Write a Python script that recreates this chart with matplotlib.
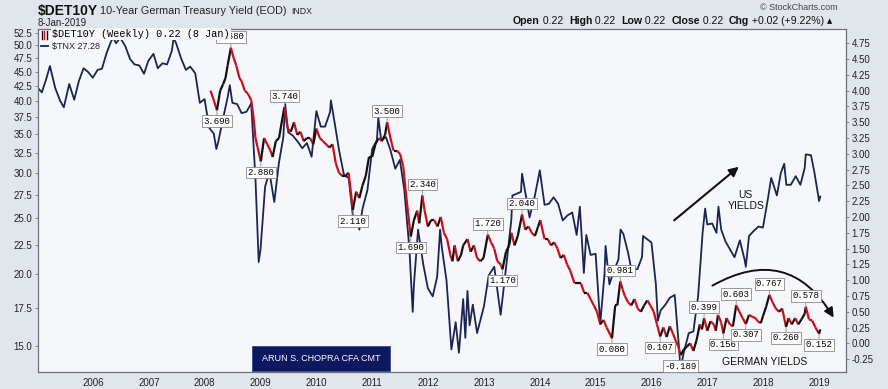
import matplotlib.pyplot as plt
import matplotlib.dates as mdates
import numpy as np
import pandas as pd
from matplotlib.collections import LineCollection
from matplotlib.patches import Rectangle
from matplotlib.ticker import FixedLocator, NullLocator, FormatStrFormatter

plt.rcParams['font.family'] = ['Liberation Sans', 'DejaVu Sans']

# $TNX (US 10y yield x10), readings, left log axis
us_dates = [
    '2005-01-03', '2005-01-31', '2005-02-28', '2005-03-25', '2005-04-29', '2005-05-31', '2005-06-24',
    '2005-07-29', '2005-08-31', '2005-09-30', '2005-10-31', '2005-11-30', '2005-12-30',
    '2006-01-31', '2006-02-28', '2006-03-31', '2006-04-28', '2006-05-12', '2006-05-31', '2006-06-28',
    '2006-07-31', '2006-08-31', '2006-09-29', '2006-10-31', '2006-11-30', '2006-12-29',
    '2007-01-31', '2007-02-28', '2007-03-30', '2007-04-30', '2007-05-31', '2007-06-12', '2007-06-29',
    '2007-07-31', '2007-08-31', '2007-09-28', '2007-10-31', '2007-11-30', '2007-12-31',
    '2008-01-31', '2008-02-29', '2008-03-17', '2008-03-31', '2008-04-30', '2008-05-30', '2008-06-13',
    '2008-06-30', '2008-07-31', '2008-08-29', '2008-09-30', '2008-10-31', '2008-11-28', '2008-12-19',
    '2008-12-31', '2009-01-30', '2009-02-27', '2009-03-31', '2009-04-30', '2009-05-29', '2009-06-10',
    '2009-06-30', '2009-07-31', '2009-08-31', '2009-09-30', '2009-10-30', '2009-11-30', '2009-12-31',
    '2010-01-29', '2010-02-26', '2010-03-31', '2010-04-05', '2010-04-30', '2010-05-28', '2010-06-30',
    '2010-07-30', '2010-08-31', '2010-09-30', '2010-10-08', '2010-10-29', '2010-11-30', '2010-12-31',
    '2011-01-31', '2011-02-09', '2011-02-28', '2011-03-31', '2011-04-29', '2011-05-31', '2011-06-30',
    '2011-07-29', '2011-08-31', '2011-09-22', '2011-09-30', '2011-10-27', '2011-11-30', '2011-12-30',
    '2012-01-31', '2012-02-29', '2012-03-19', '2012-03-30', '2012-04-30', '2012-06-01', '2012-06-29',
    '2012-07-20', '2012-08-17', '2012-08-31', '2012-09-14', '2012-09-28', '2012-10-19', '2012-11-16',
    '2012-12-31', '2013-01-31', '2013-03-08', '2013-04-19', '2013-05-31', '2013-06-28', '2013-07-05',
    '2013-08-30', '2013-09-06', '2013-10-25', '2013-11-29', '2013-12-31',
    '2014-01-31', '2014-02-28', '2014-03-31', '2014-04-30', '2014-05-30', '2014-06-30', '2014-07-31',
    '2014-08-29', '2014-09-19', '2014-10-15', '2014-10-31', '2014-11-28', '2014-12-31',
    '2015-01-30', '2015-02-27', '2015-03-06', '2015-03-31', '2015-04-30', '2015-05-29', '2015-06-12',
    '2015-06-30', '2015-07-31', '2015-08-21', '2015-09-30', '2015-10-30', '2015-11-06', '2015-12-31',
    '2016-01-29', '2016-02-11', '2016-02-29', '2016-03-31', '2016-04-29', '2016-05-31', '2016-06-30',
    '2016-07-08', '2016-07-29', '2016-08-31', '2016-09-30', '2016-10-31', '2016-11-30', '2016-12-16',
    '2016-12-30', '2017-01-31', '2017-02-28', '2017-03-13', '2017-03-31', '2017-04-28', '2017-05-31',
    '2017-06-26', '2017-07-31', '2017-08-31', '2017-09-08', '2017-09-29', '2017-10-31', '2017-11-30',
    '2017-12-29', '2018-01-31', '2018-02-21', '2018-03-30', '2018-04-25', '2018-05-17', '2018-05-31',
    '2018-06-29', '2018-07-31', '2018-08-31', '2018-09-28', '2018-10-05', '2018-11-08', '2018-11-30',
    '2018-12-31', '2019-01-08',
]
us_vals = [
    42.2, 41.4, 43.6, 46.0, 42.1, 40.0, 39.0,
    42.8, 40.2, 43.3, 45.6, 44.9, 43.9,
    45.3, 45.5, 48.5, 50.7, 51.6, 50.4, 51.5,
    49.8, 47.3, 46.3, 46.1, 44.6, 47.0,
    48.3, 45.6, 46.5, 46.3, 48.9, 51.5, 50.3,
    47.4, 45.3, 45.9, 44.7, 39.7, 40.3,
    35.9, 35.1, 33.0, 34.1, 37.3, 40.6, 42.6,
    39.7, 39.5, 38.1, 38.3, 39.6, 29.2, 21.0,
    22.1, 28.4, 30.1, 26.7, 31.2, 34.6, 39.5,
    35.3, 34.8, 34.0, 33.1, 33.8, 32.0, 38.4,
    36.1, 36.1, 38.3, 40.1, 36.6, 32.9, 29.7,
    29.4, 24.7, 25.2, 23.9, 26.0, 28.0, 33.0,
    34.2, 37.4, 34.2, 34.6, 32.9, 30.5, 31.6,
    28.0, 22.2, 17.2, 19.2, 23.9, 20.8, 18.9,
    18.3, 19.8, 23.9, 22.3, 19.5, 14.8, 16.5,
    14.6, 18.1, 15.5, 18.7, 16.3, 17.7, 15.8,
    17.6, 19.9, 20.6, 17.0, 21.3, 24.9, 27.4,
    27.8, 29.9, 25.1, 27.4, 30.3,
    26.4, 26.5, 27.2, 26.5, 24.8, 25.3, 25.6,
    23.4, 26.2, 20.1, 23.4, 21.6, 21.7,
    16.4, 20.0, 22.4, 19.2, 20.3, 21.2, 23.9,
    23.5, 21.8, 20.4, 20.4, 21.4, 23.3, 22.7,
    19.2, 16.6, 17.3, 17.7, 18.2, 18.4, 14.7,
    13.7, 14.6, 15.8, 15.9, 18.3, 23.7, 26.0,
    24.4, 24.5, 23.6, 26.2, 23.9, 22.8, 22.0,
    21.4, 22.9, 21.2, 20.6, 23.3, 23.8, 24.2,
    24.1, 27.1, 29.4, 27.4, 30.0, 31.1, 28.6,
    28.6, 29.6, 28.6, 30.6, 32.3, 32.2, 30.1,
    26.8, 27.28,
]

# $DET10Y (German 10y yield, %), right linear axis
de_dates = [
    '2008-02-08', '2008-02-29', '2008-03-21', '2008-04-11', '2008-04-30', '2008-05-16', '2008-05-30',
    '2008-06-20', '2008-07-04', '2008-07-25', '2008-08-15', '2008-08-29', '2008-09-19', '2008-10-10',
    '2008-10-31', '2008-11-14', '2008-11-28', '2008-12-12', '2009-01-02', '2009-01-23', '2009-02-13',
    '2009-03-06', '2009-03-20', '2009-04-10', '2009-05-01', '2009-05-22', '2009-06-05', '2009-06-26',
    '2009-07-17', '2009-08-07', '2009-08-28', '2009-09-18', '2009-10-09', '2009-10-30', '2009-11-20',
    '2009-12-11', '2009-12-31', '2010-01-22', '2010-02-12', '2010-03-05', '2010-03-26', '2010-04-16',
    '2010-05-07', '2010-05-28', '2010-06-18', '2010-07-09', '2010-07-30', '2010-08-27', '2010-09-17',
    '2010-10-08', '2010-10-29', '2010-11-19', '2010-12-10', '2010-12-31', '2011-01-21', '2011-02-11',
    '2011-03-04', '2011-03-25', '2011-04-08', '2011-04-29', '2011-05-20', '2011-06-10', '2011-07-01',
    '2011-07-22', '2011-08-12', '2011-09-09', '2011-09-30', '2011-10-21', '2011-11-04', '2011-11-24',
    '2011-12-09', '2011-12-30', '2012-01-20', '2012-02-10', '2012-03-02', '2012-03-23', '2012-04-13',
    '2012-05-04', '2012-05-25', '2012-06-08', '2012-06-22', '2012-07-13', '2012-08-03', '2012-08-17',
    '2012-09-14', '2012-10-05', '2012-10-26', '2012-11-16', '2012-12-07', '2012-12-28', '2013-01-25',
    '2013-02-15', '2013-03-08', '2013-03-28', '2013-04-19', '2013-05-01', '2013-05-24', '2013-06-14',
    '2013-06-28', '2013-07-19', '2013-08-09', '2013-09-06', '2013-09-27', '2013-10-18', '2013-11-08',
    '2013-11-29', '2013-12-20', '2014-01-03', '2014-01-31', '2014-02-21', '2014-03-14', '2014-04-04',
    '2014-04-25', '2014-05-16', '2014-06-06', '2014-06-27', '2014-07-18', '2014-08-15', '2014-09-05',
    '2014-09-26', '2014-10-17', '2014-11-07', '2014-11-28', '2014-12-19', '2015-01-09', '2015-01-30',
    '2015-02-20', '2015-03-13', '2015-04-17', '2015-05-08', '2015-05-22', '2015-06-10', '2015-06-26',
    '2015-07-10', '2015-07-31', '2015-08-21', '2015-09-11', '2015-10-02', '2015-10-23', '2015-11-13',
    '2015-12-04', '2015-12-24', '2016-01-15', '2016-02-05', '2016-02-26', '2016-03-18', '2016-04-08',
    '2016-04-29', '2016-05-20', '2016-06-10', '2016-06-24', '2016-07-08', '2016-07-29', '2016-08-19',
    '2016-09-09', '2016-09-30', '2016-10-21', '2016-11-11', '2016-11-25', '2016-12-09', '2016-12-30',
    '2017-01-20', '2017-02-10', '2017-02-24', '2017-03-10', '2017-03-31', '2017-04-14', '2017-05-05',
    '2017-05-26', '2017-06-16', '2017-07-07', '2017-07-28', '2017-08-18', '2017-09-08', '2017-09-29',
    '2017-10-20', '2017-11-10', '2017-11-24', '2017-12-15', '2017-12-29', '2018-01-19', '2018-02-09',
    '2018-03-02', '2018-03-23', '2018-04-13', '2018-05-04', '2018-05-29', '2018-06-15', '2018-07-06',
    '2018-07-27', '2018-08-17', '2018-09-07', '2018-09-28', '2018-10-05', '2018-10-26', '2018-11-16',
    '2018-12-07', '2018-12-31', '2019-01-08',
]
de_vals = [
    4.00, 3.85, 3.69, 4.00, 4.10, 4.20, 4.40,
    4.68, 4.55, 4.40, 4.20, 4.15, 4.00, 3.95,
    3.85, 3.60, 3.25, 3.10, 2.88, 3.25, 3.15,
    3.05, 2.95, 3.20, 3.25, 3.55, 3.74, 3.40,
    3.35, 3.50, 3.30, 3.35, 3.20, 3.25, 3.25,
    3.15, 3.40, 3.25, 3.20, 3.15, 3.10, 3.15,
    2.85, 2.70, 2.65, 2.65, 2.70, 2.11, 2.40,
    2.30, 2.50, 2.65, 2.95, 2.95, 3.15, 3.25,
    3.20, 3.30, 3.50, 3.25, 3.05, 3.05, 3.00,
    2.80, 2.30, 1.69, 1.95, 2.10, 1.90, 2.34,
    2.10, 1.85, 1.95, 1.95, 1.85, 2.00, 1.75,
    1.65, 1.40, 1.30, 1.55, 1.30, 1.40, 1.55,
    1.65, 1.45, 1.55, 1.35, 1.30, 1.35, 1.72,
    1.60, 1.50, 1.30, 1.25, 1.17, 1.45, 1.55,
    1.75, 1.55, 1.70, 2.04, 1.80, 1.85, 1.75,
    1.70, 1.85, 1.95, 1.65, 1.65, 1.55, 1.60,
    1.50, 1.35, 1.40, 1.25, 1.15, 0.95, 0.95,
    0.95, 0.80, 0.80, 0.70, 0.60, 0.50, 0.30,
    0.37, 0.25, 0.08, 0.60, 0.60, 0.981, 0.85,
    0.75, 0.65, 0.60, 0.70, 0.55, 0.50, 0.60,
    0.68, 0.60, 0.50, 0.30, 0.107, 0.25, 0.10,
    0.27, 0.15, 0.02, -0.05, -0.189, -0.10, -0.05,
    0.00, -0.12, 0.05, 0.30, 0.22, 0.399, 0.20,
    0.35, 0.30, 0.20, 0.45, 0.33, 0.156, 0.40,
    0.30, 0.27, 0.603, 0.50, 0.40, 0.307, 0.45,
    0.42, 0.40, 0.35, 0.32, 0.43, 0.58, 0.767,
    0.65, 0.55, 0.50, 0.55, 0.26, 0.40, 0.30,
    0.40, 0.30, 0.38, 0.47, 0.578, 0.38, 0.36,
    0.25, 0.152, 0.22,
]

# labelled swing points of the German series
peak_dates = ['2008-06-20', '2009-06-05', '2011-04-08', '2011-11-24', '2013-01-25', '2013-09-06',
              '2015-06-10', '2016-12-09', '2017-07-07', '2018-02-09', '2018-10-05']
peak_vals = [4.680, 3.740, 3.500, 2.340, 1.720, 2.040, 0.981, 0.399, 0.603, 0.767, 0.578]
trough_dates = ['2008-03-21', '2009-01-02', '2010-08-27', '2011-09-09', '2013-05-01', '2015-04-17',
                '2016-02-26', '2016-07-08', '2017-04-14', '2017-09-08', '2018-05-29', '2018-12-31']
trough_vals = [3.690, 2.880, 2.110, 1.690, 1.170, 0.080, 0.107, -0.189, 0.156, 0.307, 0.260, 0.152]

years = list(range(2006, 2020))
left_ticks = [15.0, 17.5, 20.0, 22.5, 25.0, 27.5, 30.0, 32.5, 35.0, 37.5, 40.0, 42.5, 45.0, 47.5, 50.0, 52.5]
right_ticks = [-0.25, 0.0, 0.25, 0.5, 0.75, 1.0, 1.25, 1.5, 1.75, 2.0, 2.25, 2.5, 2.75, 3.0,
               3.25, 3.5, 3.75, 4.0, 4.25, 4.5, 4.75]

W, H = 888, 389
fig = plt.figure(figsize=(W / 100, H / 100), dpi=100)
fig.patch.set_facecolor('#e1e6ed')

# plot box in pixels: x 38..846, y 29..372
ax = fig.add_axes([38 / W, 1 - 372 / H, 808 / W, 343 / H])
ax.set_facecolor('#f6f7fb')
ax2 = ax.twinx()

us_x = mdates.date2num(pd.to_datetime(us_dates))
ax.plot(us_x, us_vals, color='#1c2452', lw=1.3, zorder=2)
ax.set_yscale('log')
ax.set_ylim(13.52, 53.35)
ax.yaxis.set_major_locator(FixedLocator(left_ticks))
ax.yaxis.set_major_formatter(FormatStrFormatter('%.1f'))
ax.yaxis.set_minor_locator(NullLocator())

# German series: red when falling, black when rising
de_x = mdates.date2num(pd.to_datetime(de_dates))
de_y = np.array(de_vals)
segs = [[(de_x[i], de_y[i]), (de_x[i + 1], de_y[i + 1])] for i in range(len(de_x) - 1)]
cols = ['#c8101a' if de_y[i + 1] < de_y[i] else '#111111' for i in range(len(de_x) - 1)]
ax2.add_collection(LineCollection(segs, colors=cols, linewidths=1.6, zorder=3))
ax2.set_ylim(-0.454, 4.976)
ax2.yaxis.set_major_locator(FixedLocator(right_ticks))
ax2.yaxis.set_major_formatter(FormatStrFormatter('%.2f'))

ax.set_xlim(mdates.date2num(pd.Timestamp('2005-01-06')), mdates.date2num(pd.Timestamp('2019-06-25')))
ax.set_xticks(mdates.date2num(pd.to_datetime([f'{y}-01-01' for y in years])))
ax.set_xticklabels([str(y) for y in years])

for a in (ax, ax2):
    for s in a.spines.values():
        s.set_color('#6a6f78')
        s.set_linewidth(0.8)
ax.tick_params(axis='x', length=0, pad=4, labelsize=7, labelcolor='#222')
ax.tick_params(axis='y', length=2.5, width=0.6, color='#777', pad=1.5, labelsize=7, labelcolor='#222')
ax2.tick_params(axis='y', length=2.5, width=0.6, color='#777', pad=1.5, labelsize=7, labelcolor='#222')

lbl = dict(fontsize=6.5, family='Liberation Mono', ha='center', va='center', zorder=5,
           bbox=dict(boxstyle='square,pad=0.15', fc='white', ec='#8a8a8a', lw=0.6),
           arrowprops=dict(arrowstyle='-', color='#8a8a8a', lw=0.6, shrinkA=0, shrinkB=0))
for d, v in zip(peak_dates, peak_vals):
    ax2.annotate(f'{v:.3f}', xy=(mdates.date2num(pd.Timestamp(d)), v), xytext=(0, 11),
                 textcoords='offset pixels', **lbl)
for d, v in zip(trough_dates, trough_vals):
    ax2.annotate(f'{v:.3f}', xy=(mdates.date2num(pd.Timestamp(d)), v), xytext=(0, -11),
                 textcoords='offset pixels', **lbl)

# legend in upper left (partly hides the 4.680 tag, as on the original)
ax2.text(0.0173, 0.985, '$DET10Y (Weekly) 0.22 (8 Jan)', transform=ax2.transAxes, parse_math=False,
         family='Liberation Mono', fontsize=7.3, va='center', ha='left', zorder=8,
         bbox=dict(boxstyle='square,pad=0.1', fc='#f6f7fb', ec='none'))
for i, c in enumerate(['#111111', '#c8101a', '#111111']):
    ax2.plot([0.0045 + i * 0.0035] * 2, [0.972, 0.995], transform=ax2.transAxes, color=c, lw=1.0,
             zorder=9, clip_on=False)
ax2.plot([0.004, 0.012], [0.950, 0.950], transform=ax2.transAxes, color='#1c2452', lw=1.3, zorder=9)
ax2.text(0.0173, 0.950, '$TNX 27.28', transform=ax2.transAxes, parse_math=False,
         fontsize=6.5, va='center', ha='left', zorder=8, color='#222')

# hand-drawn style notes
ax2.annotate('', xy=(0.870, 0.6035), xytext=(0.7847, 0.437), xycoords='axes fraction',
             arrowprops=dict(arrowstyle='-|>', color='#111', lw=1.5, mutation_scale=14))
ax2.text(0.876, 0.50, 'US\nYIELDS', transform=ax2.transAxes, ha='center', va='center',
         fontsize=7.5, linespacing=1.1, color='#111')
ax2.annotate('', xy=(0.9864, 0.1516), xytext=(0.8317, 0.2478), xycoords='axes fraction',
             arrowprops=dict(arrowstyle='-|>', color='#111', lw=1.4, mutation_scale=14,
                             connectionstyle='arc3,rad=-0.5'))
ax2.text(0.8998, 0.029, 'GERMAN YIELDS', transform=ax2.transAxes, ha='center', va='center',
         fontsize=7.5, color='#111')

ax2.add_patch(Rectangle((0.265, 0.003), 0.171, 0.073, transform=ax2.transAxes,
                        fc='#0c1960', ec='#3a4a90', lw=0.6, zorder=6))
ax2.text(0.3505, 0.039, 'ARUN S. CHOPRA CFA CMT', transform=ax2.transAxes, ha='center', va='center',
         fontsize=6.5, color='white', zorder=7)

# header
fig.text(38 / W, 1 - 11 / H, '$DET10Y', parse_math=False, fontsize=10, weight='bold', va='center', color='#111')
fig.text(100 / W, 1 - 11 / H, '10-Year German Treasury Yield (EOD)', fontsize=7.8, va='center', color='#222')
fig.text(291 / W, 1 - 11 / H, 'INDX', fontsize=6.3, va='center', color='#222')
fig.text(38 / W, 1 - 22.5 / H, '8-Jan-2019', fontsize=7, va='center', color='#222')
fig.text(838 / W, 1 - 8 / H, '\u00a9 StockCharts.com', fontsize=6.5, va='center', ha='right', color='#444')

parts = [('Open', 'bold'), (' 0.22  ', 'normal'), ('High', 'bold'), (' 0.22  ', 'normal'),
         ('Low', 'bold'), (' 0.22  ', 'normal'), ('Close', 'bold'), (' 0.22  ', 'normal'),
         ('Chg', 'bold'), (' +0.02 (+9.22%) \u25b4', 'normal')]
t = fig.text(513 / W, 1 - 24 / H, parts[0][0], fontsize=7.6, weight=parts[0][1], va='baseline', color='#111')
for txt, wt in parts[1:]:
    t = ax.annotate(txt, xy=(1, 0), xycoords=t, va='bottom', ha='left', fontsize=7.6, weight=wt,
                    color='#111', annotation_clip=False, family=['Liberation Sans', 'DejaVu Sans'])

fig.savefig('out.png', dpi=100)
